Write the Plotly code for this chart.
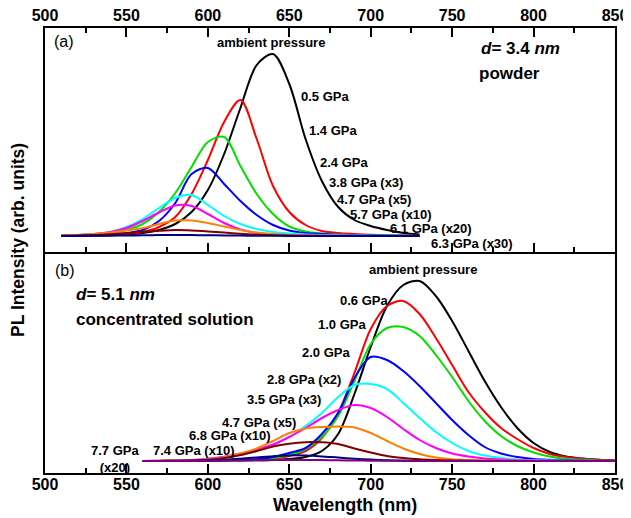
import plotly.graph_objects as go

# ---------------- data (intensity above baseline, arb. units) ----------------
wl_a = [510, 520, 530, 540, 550, 560, 570, 580, 590, 600, 610, 620, 630, 640,
        650, 660, 670, 680, 690, 700, 710, 720, 730]
a_amb = [0, 0.3, 0.5, 0.8, 1.5, 3, 6, 12, 24, 46, 82, 128, 171, 182, 152, 97, 55, 29, 16, 10, 6, 3, 1.5]
a_05 = [0.1, 0.3, 0.5, 1, 2, 4, 9, 19, 42, 76, 114, 136, 97, 50, 24, 11, 5, 3, 2, 1.3, 0.8, 0.5, 0.3]
a_14 = [0.3, 0.7, 1.5, 3, 6, 12, 24, 43, 69, 94, 99, 70, 42, 22, 9.5, 4.5, 2.5, 1.5, 1, 0.6, 0.4, 0.2, 0.1]
a_24 = [0.2, 0.4, 0.8, 1.5, 3, 6, 15, 33, 62, 68, 52, 35, 21, 11, 5.5, 3, 2, 1.2, 0.8, 0.5, 0.3, 0.2, 0.1]
a_38 = [0.5, 1, 2, 4, 9, 17, 28, 38, 41, 31, 20, 12, 7, 4, 2.5, 1.6, 1, 0.7, 0.5, 0.3, 0.2, 0.1, 0]
a_47 = [0.5, 1, 2, 4, 8, 15, 23.5, 30.5, 30, 22, 13, 6.5, 3, 1.5, 1, 0.6, 0.4, 0.3, 0.2, 0.1, 0.1, 0, 0]
a_57 = [0.5, 1, 2, 3.5, 5.5, 8, 12, 15.5, 15.5, 13, 9.5, 6, 3.5, 2, 1, 0.6, 0.3, 0.2, 0.1, 0.1, 0, 0, 0]
a_61 = [0.3, 0.6, 1, 1.8, 2.8, 4, 5.2, 6, 5.6, 4.6, 3.4, 2.2, 1.3, 0.7, 0.4, 0.2, 0.1, 0.1, 0, 0, 0, 0, 0]
a_63 = [0, 0.1, 0.2, 0.3, 0.5, 0.7, 0.9, 1, 0.9, 0.8, 0.6, 0.4, 0.3, 0.2, 0.1, 0, 0, 0, 0, 0, 0, 0, 0]

wl_b = [560, 570, 580, 590, 600, 610, 620, 630, 640, 650, 660, 670, 680, 690, 700,
        710, 720, 730, 740, 750, 760, 770, 780, 790, 800, 810, 820, 830, 840, 850]
b_amb = [0, 0, 0.1, 0.2, 0.3, 0.4, 0.6, 0.8, 1, 2, 4, 10, 27, 67, 114, 155, 176, 180, 165, 140, 110, 80, 54, 33, 18, 9, 4.5, 2.5, 1.2, 0.6]
b_06 = [0, 0.1, 0.2, 0.4, 0.6, 0.8, 1.1, 1.6, 2.2, 5, 10, 23, 48, 88, 132, 155, 160, 147, 123, 96, 69, 49, 33, 22, 13, 7, 4, 2.2, 1.2, 0.6]
b_10 = [0, 0.1, 0.2, 0.3, 0.5, 0.8, 1.1, 1.5, 3, 6, 12, 24, 45, 80, 117, 133, 134, 125, 106, 84, 60, 40, 25, 15, 8.5, 4.5, 2.3, 1.2, 0.6, 0.3]
b_20 = [0, 0.1, 0.2, 0.3, 0.5, 0.8, 1, 1.5, 4, 8, 13, 27, 48, 83, 104, 101, 90, 75, 58, 41, 26, 14, 7.5, 4, 2, 1.2, 0.7, 0.4, 0.2, 0.1]
b_28 = [0, 0.2, 0.4, 0.8, 1.8, 3.5, 6, 10, 16, 24, 35, 48, 64, 76, 77, 72, 58, 43, 29, 18, 10, 5.5, 3, 1.6, 0.9, 0.5, 0.3, 0.2, 0.1, 0]
b_35 = [0.1, 0.2, 0.5, 1, 2.2, 4.3, 7.5, 11.5, 16.5, 24, 33, 43, 51, 56, 53, 44, 32, 21, 13, 7.5, 4.5, 2.5, 1.4, 0.8, 0.5, 0.3, 0.2, 0.1, 0, 0]
b_47 = [0.1, 0.2, 0.4, 0.8, 1.7, 3.8, 7.5, 12.5, 20, 28, 32.5, 34, 34.5, 33.5, 28, 20, 12.5, 7, 3.5, 1.8, 1, 0.5, 0.3, 0.2, 0.1, 0, 0, 0, 0, 0]
b_68 = [0, 0.1, 0.2, 0.5, 1.3, 3, 6, 10, 14.5, 17.3, 18.8, 18.7, 17, 12.5, 8.5, 5, 3, 1.7, 1, 0.5, 0.3, 0.2, 0.1, 0, 0, 0, 0, 0, 0, 0]
b_74 = [0, 0, 0.1, 0.3, 0.7, 1.3, 2.3, 3.5, 4.8, 5.6, 5.4, 4.6, 3.4, 2.3, 1.4, 0.8, 0.4, 0.2, 0.1, 0, 0, 0, 0, 0, 0, 0, 0, 0, 0, 0]
b_77 = [0, 0, 0, 0.1, 0.2, 0.3, 0.5, 0.7, 0.9, 1, 1, 0.9, 0.7, 0.5, 0.3, 0.2, 0.1, 0, 0, 0, 0, 0, 0, 0, 0, 0, 0, 0, 0, 0]

labels_a = ["ambient pressure", "0.5 GPa", "1.4 GPa", "2.4 GPa", "3.8 GPa (x3)",
            "4.7 GPa (x5)", "5.7 GPa (x10)", "6.1 GPa (x20)", "6.3 GPa (x30)"]
labels_b = ["ambient pressure", "0.6 GPa", "1.0 GPa", "2.0 GPa", "2.8 GPa (x2)",
            "3.5 GPa (x3)", "4.7 GPa (x5)", "6.8 GPa (x10)", "7.4 GPa (x10)", "7.7 GPa<br>(x20)"]
series_a = [a_amb, a_05, a_14, a_24, a_38, a_47, a_57, a_61, a_63]
series_b = [b_amb, b_06, b_10, b_20, b_28, b_35, b_47, b_68, b_74, b_77]
colors = ["#000000", "#FF0000", "#00E000", "#0000FF", "#00FFFF", "#FF00FF",
          "#FF8000", "#800000", "#000080", "#800080"]
xticks = [500, 550, 600, 650, 700, 750, 800, 850]

FONT = "Liberation Sans, Arial, sans-serif"

fig = go.Figure()
for i, ys in enumerate(series_a):
    fig.add_trace(go.Scatter(x=wl_a, y=ys, mode="lines", xaxis="x2", yaxis="y2",
                             line=dict(color=colors[i], width=2, shape="spline", smoothing=0.9),
                             name=labels_a[i], showlegend=False, hoverinfo="skip"))
for i, ys in enumerate(series_b):
    fig.add_trace(go.Scatter(x=wl_b, y=ys, mode="lines", xaxis="x", yaxis="y",
                             line=dict(color=colors[i], width=2, shape="spline", smoothing=0.9),
                             name=labels_b[i], showlegend=False, hoverinfo="skip"))

# page body has an 8px default margin -> figure drawn from (8, 8)
OFF = 8
W, H = 631 - OFF, 518 - OFF
L, R, T, B = 45 - OFF, 16, 28 - OFF, 45
PW, PH = W - L - R, H - T - B      # 570 x 445

split = (473 - 252) / PH
axis_common = dict(range=[500, 850], tickvals=xticks, ticks="inside", ticklen=9, tickwidth=2,
                   tickcolor="black", showline=True, linecolor="black", linewidth=2,
                   showgrid=False, zeroline=False, automargin=False,
                   tickfont=dict(family=FONT, size=16, color="black", weight="bold"),
                   minor=dict(ticks="inside", dtick=25, tick0=500, ticklen=5, tickwidth=1.5,
                              tickcolor="black", showgrid=False))

fig.update_layout(
    width=W, height=H,
    margin=dict(l=L, r=R, t=T, b=B, autoexpand=False),
    paper_bgcolor="white", plot_bgcolor="white",
    xaxis=dict(anchor="y", side="bottom", mirror=False, ticklabelstandoff=-4, **axis_common),
    xaxis2=dict(anchor="y2", side="top", mirror="ticks", ticklabelstandoff=-1, **axis_common),
    yaxis=dict(domain=[0, split], range=[-12, 209], showticklabels=False, ticks="",
               showline=True, linecolor="black", linewidth=2, mirror=True,
               showgrid=False, zeroline=False, automargin=False),
    yaxis2=dict(domain=[split, 1], range=[-16, 208], showticklabels=False, ticks="",
                showline=True, linecolor="black", linewidth=2, mirror=True,
                showgrid=False, zeroline=False, automargin=False),
)

lab_font = dict(family=FONT, size=13, color="black", weight="bold")
big_font = dict(family=FONT, size=17, color="black", weight="bold")

ann = []
pos_a = [(638.8, 194, "center"), (656, 140, "left"), (660.9, 106, "left"), (667.6, 74, "left"),
         (673.2, 54, "left"), (678.1, 37, "left"), (686, 22, "left"), (710.6, 8, "left"),
         (735.8, -7, "left")]
for t, (x, y, a) in zip(labels_a, pos_a):
    ann.append(dict(x=x, y=y, xref="x2", yref="y2", text=t, showarrow=False,
                    xanchor=a, yanchor="middle", font=lab_font))
pos_b = [(732, 192, "center"), (711.8, 161, "right"), (698.3, 137, "right"), (688.5, 109, "right"),
         (683, 82, "right"), (670.7, 62, "right"), (655.3, 39, "right"), (640, 26, "right"),
         (617.9, 11, "right"), (559, 2, "right")]
for t, (x, y, a) in zip(labels_b, pos_b):
    ann.append(dict(x=x, y=y, xref="x", yref="y", text=t, showarrow=False,
                    xanchor=a, yanchor="middle", font=lab_font, align="center"))

def px(xp, yp):
    # screen pixel -> paper coords
    return (xp - 45) / PW, (473 - yp) / PH

for text, (xp, yp), f in [("(a)", (52, 42), dict(family=FONT, size=16, color="black")),
                          ("<i>d</i>= 3.4 <i>nm</i>", (479, 48), big_font),
                          ("powder", (477, 73), big_font),
                          ("(b)", (53, 270), dict(family=FONT, size=16, color="black")),
                          ("<i>d</i>= 5.1 <i>nm</i>", (74, 294), big_font),
                          ("concentrated solution", (74, 319), big_font)]:
    xx, yy = px(xp, yp)
    ann.append(dict(x=xx, y=yy, xref="paper", yref="paper", text=text, showarrow=False,
                    xanchor="left", yanchor="middle", font=f))

xx, yy = px(345, 505)
ann.append(dict(x=xx, y=yy, xref="paper", yref="paper", text="Wavelength (nm)", showarrow=False,
                xanchor="center", yanchor="middle",
                font=dict(family=FONT, size=18, color="black", weight="bold")))
xx, yy = px(18, 240)
ann.append(dict(x=xx, y=yy, xref="paper", yref="paper", text="PL Intensity (arb. units)",
                showarrow=False, textangle=-90, xanchor="center", yanchor="middle",
                font=dict(family=FONT, size=17.5, color="black", weight="bold")))

fig.update_layout(annotations=ann)
fig.write_html("out.html")
